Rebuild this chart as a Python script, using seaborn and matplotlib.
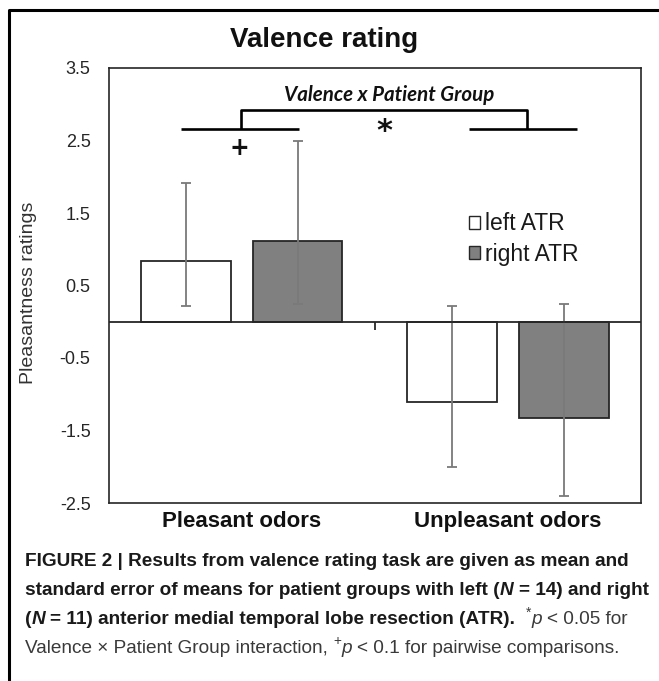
import matplotlib
matplotlib.use("Agg")
import matplotlib.pyplot as plt
from matplotlib import font_manager
from matplotlib.font_manager import FontProperties
from matplotlib.lines import Line2D
from matplotlib.patches import Patch
import seaborn as sns
import pandas as pd

# ---------------- data ----------------
categories = ["Pleasant odors", "Unpleasant odors"]
groups = ["left ATR", "right ATR"]
left_means = [0.84, -1.11]
right_means = [1.11, -1.33]
left_err_low = [0.22, -2.01]
left_err_high = [1.91, 0.22]
right_err_low = [0.25, -2.40]
right_err_high = [2.49, 0.25]
yticks = [-2.5, -1.5, -0.5, 0.5, 1.5, 2.5, 3.5]
ytick_labels = ["-2.5", "-1.5", "-0.5", "0.5", "1.5", "2.5", "3.5"]

title = "Valence rating"
ylabel = "Pleasantness ratings"
annot_text = "Valence x Patient Group"

# ---------------- style ----------------
sns.set_theme(style="white")
plt.rcParams['font.family'] = ['Liberation Sans', 'DejaVu Sans']


def has_font(name):
    try:
        font_manager.findfont(FontProperties(family=name), fallback_to_default=False)
        return True
    except Exception:
        return False


NARROW = 'Liberation Sans Narrow' if has_font('Liberation Sans Narrow') else 'Liberation Sans'
ANN_FONT = 'Lato' if has_font('Lato') else 'DejaVu Sans'
EDGE = '#262626'
bar_colors = ['white', '#808080']

W, H = 659, 681
fig = plt.figure(figsize=(W / 100, H / 100), dpi=100)
fig.patch.set_facecolor('white')
ax_left, ax_right, ax_top, ax_bot = 108.6, 641.0, 68.0, 503.0
ax = fig.add_axes([ax_left / W, 1 - ax_bot / H, (ax_right - ax_left) / W, (ax_bot - ax_top) / H])

df = pd.DataFrame({
    'category': categories * 2,
    'group': [groups[0]] * len(categories) + [groups[1]] * len(categories),
    'mean': left_means + right_means,
})

sns.barplot(data=df, x='category', y='mean', hue='group', order=categories,
            hue_order=groups, palette=dict(zip(groups, bar_colors)),
            edgecolor=EDGE, linewidth=1.3, width=0.84, gap=0.2,
            errorbar=None, legend=False, ax=ax, zorder=2)

means = [left_means, right_means]
lows = [left_err_low, right_err_low]
highs = [left_err_high, right_err_high]
for cont, ms, ls, hs in zip(ax.containers, means, lows, highs):
    for bar, m, lo, hi in zip(cont, ms, ls, hs):
        xc = bar.get_x() + bar.get_width() / 2
        ax.errorbar(xc, m, yerr=[[m - lo], [hi - m]], fmt='none', ecolor='#7a7a7a',
                    elinewidth=1.3, capsize=3.6, capthick=1.3, zorder=3)

ax.set_xlim(-0.5, len(categories) - 0.5)
ax.set_ylim(yticks[0], yticks[-1])
ax.axhline(0, color=EDGE, lw=1.3, zorder=4)
# category boundary tick on the zero axis
ax.plot([0.5, 0.5], [0, -0.11], color=EDGE, lw=1.3, zorder=4, solid_capstyle='butt')

ax.set_yticks(yticks)
ax.set_yticklabels(ytick_labels)
ax.tick_params(axis='y', length=0, pad=13, labelsize=13, labelcolor='#262626')
ax.tick_params(axis='x', length=0, pad=6, labelsize=16, labelcolor='#111111')
for lab in ax.get_xticklabels():
    lab.set_fontweight('bold')
ax.set_xlabel('')
ax.set_ylabel(ylabel, fontsize=14, color='#333333')
ax.yaxis.set_label_coords(-0.134, 0.483)
for s in ax.spines.values():
    s.set_visible(True)
    s.set_color(EDGE)
    s.set_linewidth(1.2)

# legend
handles = [Patch(facecolor=c, edgecolor=EDGE, linewidth=1.0) for c in bar_colors]
ax.legend(handles, groups, loc='upper left', bbox_to_anchor=(0.677, 0.668),
          frameon=False, fontsize=16.5, handlelength=0.5, handleheight=0.5,
          handletextpad=0.2, labelspacing=0.33, borderpad=0, borderaxespad=0,
          labelcolor='#1a1a1a')

# significance bracket
lw_b = 1.9
kw_b = dict(color='black', lw=lw_b, clip_on=False, zorder=5, solid_capstyle='butt')
x_l, x_r = 0 - 0.004, 1 + 0.073
y_top, y_low = 2.92, 2.66
ax.plot([x_l, x_l, x_r, x_r], [y_low, y_top, y_top, y_low], **kw_b)
ax.plot([0 - 0.229, 0 + 0.214], [y_low, y_low], **kw_b)
ax.plot([1 - 0.148, 1 + 0.261], [y_low, y_low], **kw_b)
ax.text((x_l + x_r) / 2 + 0.02, 3.13, annot_text, ha='center', va='center',
        fontsize=14.8, fontweight='bold', style='italic', family=ANN_FONT, color='#111111')
ax.text(-0.01, 2.40, '+', ha='center', va='center', fontsize=17, fontweight='bold',
        family='DejaVu Sans', color='#111111')
ax.text(0.537, 2.62, '*', ha='center', va='center', fontsize=22, fontweight='bold',
        family='DejaVu Sans', color='#111111')

# title
fig.text(324 / W, 1 - 40 / H, title, ha='center', va='center', fontsize=20,
         fontweight='bold', family=NARROW, color='#111111')

# outer frame (top and left edges)
fig.add_artist(Line2D([8.5 / W, 8.5 / W, 1.0], [0.0, 1 - 9.5 / H, 1 - 9.5 / H],
                      transform=fig.transFigure, color='black', lw=2.2))

# caption
renderer = fig.canvas.get_renderer()
B = dict(fontweight='bold', color='#1a1a1a')
BI = dict(fontweight='bold', style='italic', color='#1a1a1a')
R = dict(fontweight='normal', color='#3a3a3a')
RI = dict(fontweight='normal', style='italic', color='#3a3a3a')
SUP = dict(fontweight='normal', color='#3a3a3a', sup=True)

caption_lines = [
    [("FIGURE 2 | Results from valence rating task are given as mean and", B)],
    [("standard error of means for patient groups with left (", B), ("N", BI), (" = 14) and right", B)],
    [("(", B), ("N", BI), (" = 11) anterior medial temporal lobe resection (ATR).", B),
     (" ", R), ("*", SUP), ("p", RI), (" < 0.05 for", R)],
    [("Valence \u00d7 Patient Group interaction, ", R), ("+", SUP), ("p", RI),
     (" < 0.1 for pairwise comparisons.", R)],
]


def measure(txt, size, props):
    p = {k: v for k, v in props.items() if k != 'sup'}
    t = fig.text(0, 0, txt, fontsize=size, family=NARROW, **p)
    w = t.get_window_extent(renderer=renderer).width
    t.remove()
    return w


def space_width(size, props):
    return measure("x x", size, props) - measure("xx", size, props)


def draw_line(pieces, x0, baseline, size, draw=True):
    x = x0
    for txt, props in pieces:
        lead = len(txt) - len(txt.lstrip(' '))
        trail = len(txt) - len(txt.rstrip(' '))
        core = txt.strip(' ')
        sw = space_width(size, props) if (lead or trail) else 0
        x += lead * sw
        if core:
            sz = size * 0.72 if props.get('sup') else size
            dy = size * 0.55 if props.get('sup') else 0
            p = {k: v for k, v in props.items() if k != 'sup'}
            if draw:
                fig.text(x / W, 1 - (baseline - dy) / H, core, ha='left', va='baseline',
                         fontsize=sz, family=NARROW, **p)
            x += measure(core, sz, props)
        x += trail * sw
    return x - x0


base = 12.0
wline = draw_line(caption_lines[1], 0, 0, base, draw=False)
cap_size = base * 623.0 / wline
baselines = [566, 595, 624, 653]
for pieces, bl in zip(caption_lines, baselines):
    draw_line(pieces, 25, bl, cap_size)

fig.savefig("out.png", dpi=100, facecolor='white')
